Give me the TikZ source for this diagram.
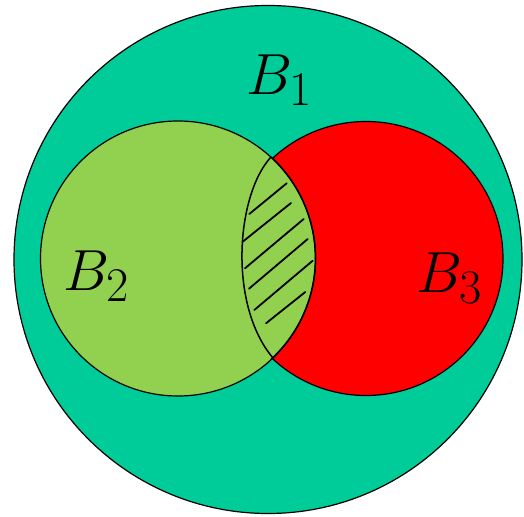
\documentclass[tikz,border=0pt]{standalone}
\definecolor{outerteal}{RGB}{0,204,153}
\definecolor{leftgreen}{RGB}{146,208,80}
\definecolor{rightred}{RGB}{255,0,0}
\tikzset{
  setdisk/.style={
    draw=black,
    line width=1.2pt
  },
  lensedge/.style={line width=1.5pt},
  hatchline/.style={line width=1.8pt, line cap=round},
  setname/.style={font=\Huge, scale=2.33, inner sep=0pt}
}

\begin{document}
\begin{tikzpicture}[x=1pt,y=-1pt]
  \useasboundingbox (0,0) rectangle (524,516);

  \draw[setdisk, fill=outerteal] (268,259.5) circle (254);
  \draw[setdisk, fill=rightred] (366,258.5) circle (137);
  \draw[setdisk, fill=leftgreen] (178,258.5) circle (137.5);

  % left edge of the common part
  \draw[lensedge] (271,157) .. controls (236,195) and (228,305) .. (273,358);
  \draw[lensedge] (271,157) arc[start angle=-47.4, end angle=47.4, radius=137.5];

  \foreach \ax/\ay/\bx/\by in {249.3/214/286.7/183.3, 242.7/241.7/291/203,
      245/268.3/303.7/219, 249/288.7/307.7/239, 254.3/310/312.7/260.7,
      266/323.3/305.3/292}
    \draw[hatchline] (\ax,\ay) -- (\bx,\by);

  \node[setname] (b1) at (280,80) {$B_1$};
  \node[setname] (b2) at (97,276) {$B_2$};
  \node[setname] (b3) at (450,278) {$B_3$};
\end{tikzpicture}
\end{document}
